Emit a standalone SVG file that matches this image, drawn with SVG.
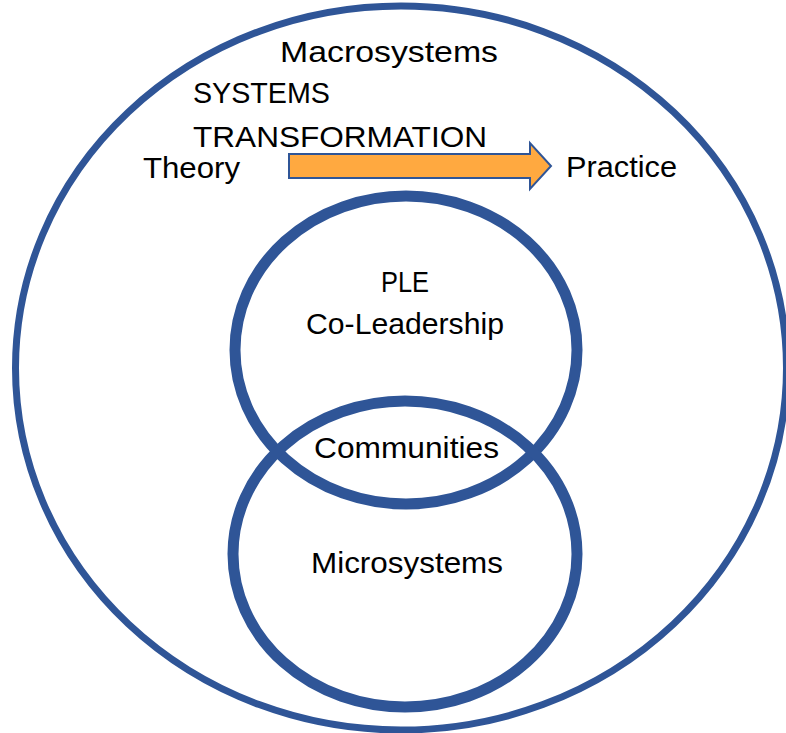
<svg xmlns="http://www.w3.org/2000/svg" width="786" height="733" viewBox="0 0 786 733">
<style>
.ring{fill:none;stroke:#2F5597}
.t{font-family:"Liberation Sans",Arial,sans-serif;fill:#000;font-size:30px}
</style>
<rect width="786" height="733" fill="#fff"/>
<g id="macrosystems">
<ellipse class="ring" cx="401" cy="368" rx="385.5" ry="362" stroke-width="7"/>
<text class="t" x="280" y="62" textLength="218" lengthAdjust="spacingAndGlyphs">Macrosystems</text>
<text class="t" x="193" y="103" textLength="137" lengthAdjust="spacingAndGlyphs">SYSTEMS</text>
<text class="t" x="193" y="147" textLength="294" lengthAdjust="spacingAndGlyphs">TRANSFORMATION</text>
</g>
<g id="theory"><text class="t" x="143" y="178" textLength="97" lengthAdjust="spacingAndGlyphs">Theory</text></g>
<g id="practice"><text class="t" x="566" y="177" textLength="111" lengthAdjust="spacingAndGlyphs">Practice</text></g>
<g id="connectors">
<path d="M289,154 H530 V143 L551,166 L530,189 V178 H289 Z" fill="#FFA940" stroke="#2F5597" stroke-width="2"/>
</g>
<g id="ple">
<ellipse class="ring" cx="406" cy="350" rx="171" ry="154" stroke-width="11"/>
<text class="t" x="381" y="292" textLength="48" lengthAdjust="spacingAndGlyphs">PLE</text>
<text class="t" x="306" y="334" textLength="198" lengthAdjust="spacingAndGlyphs">Co-Leadership</text>
</g>
<g id="microsystems">
<ellipse class="ring" cx="405" cy="554" rx="172" ry="153" stroke-width="11"/>
<text class="t" x="311" y="573" textLength="192" lengthAdjust="spacingAndGlyphs">Microsystems</text>
</g>
<g id="communities">
<text class="t" x="314" y="458" textLength="185" lengthAdjust="spacingAndGlyphs">Communities</text>
</g>
</svg>
